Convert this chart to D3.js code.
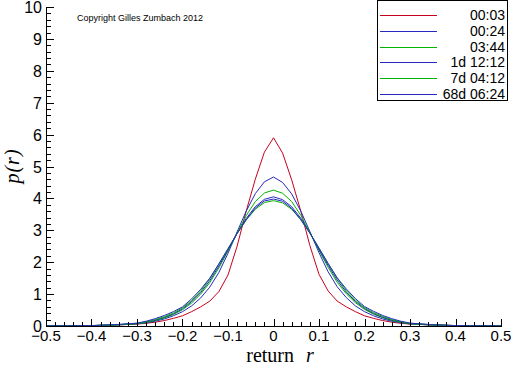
<!DOCTYPE html>
<html><head><meta charset="utf-8">
<script src="https://cdn.jsdelivr.net/npm/d3@7"></script>
<style>body{margin:0;background:#fff}svg{display:block}</style>
</head><body>
<script>
const returns = [-0.5,-0.45,-0.4,-0.35,-0.3,-0.28,-0.26,-0.24,-0.22,-0.2,-0.18,-0.16,-0.14,-0.12,-0.1,-0.08,-0.06,-0.04,-0.02,0,0.02,0.04,0.06,0.08,0.1,0.12,0.14,0.16,0.18,0.2,0.22,0.24,0.26,0.28,0.3,0.35,0.4,0.45,0.5];
const seriesNames = ["00:03","00:24","03:44","1d 12:12","7d 04:12","68d 06:24"];
const seriesColors = ["#c8001e","#2828c0","#00b400","#2828c0","#00b400","#2828c0"];
const s0003 = [0.004,0.007,0.014,0.03,0.06,0.085,0.12,0.17,0.24,0.32,0.45,0.6,0.78,1.08,1.6,2.5,3.6,4.6,5.45,5.9,5.42,4.58,3.6,2.52,1.62,1.1,0.78,0.6,0.45,0.32,0.24,0.17,0.12,0.085,0.06,0.03,0.014,0.007,0.004];
const s0024 = [0.003,0.006,0.012,0.03,0.065,0.1,0.15,0.22,0.32,0.45,0.63,0.88,1.22,1.68,2.28,2.95,3.6,4.15,4.52,4.67,4.5,4.14,3.6,2.96,2.3,1.7,1.23,0.89,0.63,0.45,0.32,0.22,0.15,0.1,0.065,0.03,0.012,0.006,0.003];
const s0344 = [0.003,0.006,0.012,0.03,0.07,0.11,0.17,0.25,0.36,0.51,0.72,1.0,1.36,1.82,2.35,2.92,3.46,3.9,4.17,4.26,4.16,3.9,3.47,2.93,2.37,1.84,1.37,1.01,0.73,0.52,0.37,0.26,0.17,0.11,0.07,0.03,0.012,0.006,0.003];
const s1d1212 = [0.003,0.006,0.012,0.035,0.08,0.12,0.18,0.27,0.38,0.54,0.76,1.05,1.42,1.88,2.38,2.9,3.37,3.74,3.97,4.05,3.96,3.74,3.38,2.92,2.4,1.9,1.44,1.06,0.77,0.55,0.39,0.27,0.18,0.12,0.08,0.035,0.012,0.006,0.003];
const s7d0412 = [0.003,0.006,0.013,0.035,0.085,0.13,0.2,0.29,0.41,0.57,0.8,1.1,1.48,1.94,2.42,2.9,3.32,3.66,3.87,3.93,3.86,3.66,3.33,2.92,2.44,1.96,1.5,1.11,0.81,0.58,0.42,0.3,0.2,0.13,0.085,0.035,0.013,0.006,0.003];
const s68d0624 = [0.003,0.006,0.014,0.04,0.09,0.15,0.23,0.33,0.45,0.6,0.85,1.15,1.5,1.95,2.42,2.9,3.33,3.7,3.92,3.98,3.91,3.69,3.33,2.91,2.44,1.96,1.51,1.16,0.86,0.61,0.46,0.33,0.23,0.15,0.09,0.04,0.014,0.006,0.003];
const seriesValues = [s0003,s0024,s0344,s1d1212,s7d0412,s68d0624];
const xTicks = [-0.5,-0.4,-0.3,-0.2,-0.1,0,0.1,0.2,0.3,0.4,0.5];
const yTicks = [0,1,2,3,4,5,6,7,8,9,10];

const W=512,H=366;
const svg=d3.select("body").append("svg").attr("width",W).attr("height",H);
const x=d3.scaleLinear().domain([-0.5,0.5]).range([46,501]);
const y=d3.scaleLinear().domain([0,10]).range([326,7]);

const line=d3.line().x((d,i)=>x(returns[i])).y(d=>y(d));
seriesValues.forEach((vals,k)=>{
  svg.append("path").datum(vals).attr("d",line).attr("fill","none")
    .attr("stroke",seriesColors[k]).attr("stroke-width",1);
});

const g=svg.append("g").attr("shape-rendering","crispEdges");
const xMinor=d3.range(-0.5,0.5001,0.02);
const yMinor=d3.range(0,10.001,0.2);
g.selectAll(".xm").data(xMinor).join("line")
  .attr("x1",d=>Math.round(x(d))+0.5).attr("x2",d=>Math.round(x(d))+0.5)
  .attr("y1",y(0)).attr("y2",y(0)-4).attr("stroke","#000");
g.selectAll(".xM").data(xTicks).join("line")
  .attr("x1",d=>Math.round(x(d))+0.5).attr("x2",d=>Math.round(x(d))+0.5)
  .attr("y1",y(0)).attr("y2",y(0)-7).attr("stroke","#000");
g.selectAll(".ym").data(yMinor).join("line")
  .attr("y1",d=>Math.round(y(d))+0.5).attr("y2",d=>Math.round(y(d))+0.5)
  .attr("x1",x(-0.5)).attr("x2",x(-0.5)+5).attr("stroke","#000");
g.selectAll(".yM").data(yTicks).join("line")
  .attr("y1",d=>Math.round(y(d))+0.5).attr("y2",d=>Math.round(y(d))+0.5)
  .attr("x1",x(-0.5)).attr("x2",x(-0.5)+8).attr("stroke","#000");
g.append("line").attr("x1",46.5).attr("x2",46.5).attr("y1",y(10)).attr("y2",y(0)+0.5).attr("stroke","#000");
g.append("line").attr("x1",46).attr("x2",x(0.5)+1).attr("y1",326.5).attr("y2",326.5).attr("stroke","#000");

const tf="'Liberation Sans', Arial, sans-serif";
svg.selectAll(".xl").data(xTicks).join("text")
  .attr("x",d=>x(d)).attr("y",341).attr("text-anchor","middle")
  .attr("font-family",tf).attr("font-size",15).text(d=>d===0?"0":d3.format(".1f")(d));
svg.selectAll(".yl").data(yTicks).join("text")
  .attr("x",42).attr("y",d=>y(d)+6).attr("text-anchor","end")
  .attr("font-family",tf).attr("font-size",16).text(d=>d);

const xt=svg.append("text").attr("x",280).attr("y",362).attr("text-anchor","middle")
  .attr("font-family","'Liberation Serif', 'Times New Roman', serif").attr("font-size",20);
xt.append("tspan").text("return");
xt.append("tspan").attr("dx",12).attr("font-style","italic").text("r");
svg.append("text").attr("transform","translate(19,166) rotate(-90)").attr("text-anchor","middle")
  .attr("font-family","'Liberation Serif', 'Times New Roman', serif").attr("font-size",20)
  .attr("font-style","italic").attr("letter-spacing",1).text("p(r)");

svg.append("text").attr("x",77).attr("y",21).attr("font-family",tf).attr("font-size",9).text("Copyright Gilles Zumbach 2012");

const lg=svg.append("g");
lg.append("rect").attr("x",377.5).attr("y",0.5).attr("width",130).attr("height",100)
  .attr("fill","#fff").attr("stroke","#000").attr("shape-rendering","crispEdges");
seriesNames.forEach((n,k)=>{
  const yy=Math.round(15+k*15.8);
  lg.append("rect").attr("x",380).attr("y",yy).attr("width",57).attr("height",1)
    .attr("fill",seriesColors[k]);
  lg.append("text").attr("x",505).attr("y",yy+5).attr("text-anchor","end")
    .attr("font-family",tf).attr("font-size",14).text(n);
});
</script>
</body></html>
